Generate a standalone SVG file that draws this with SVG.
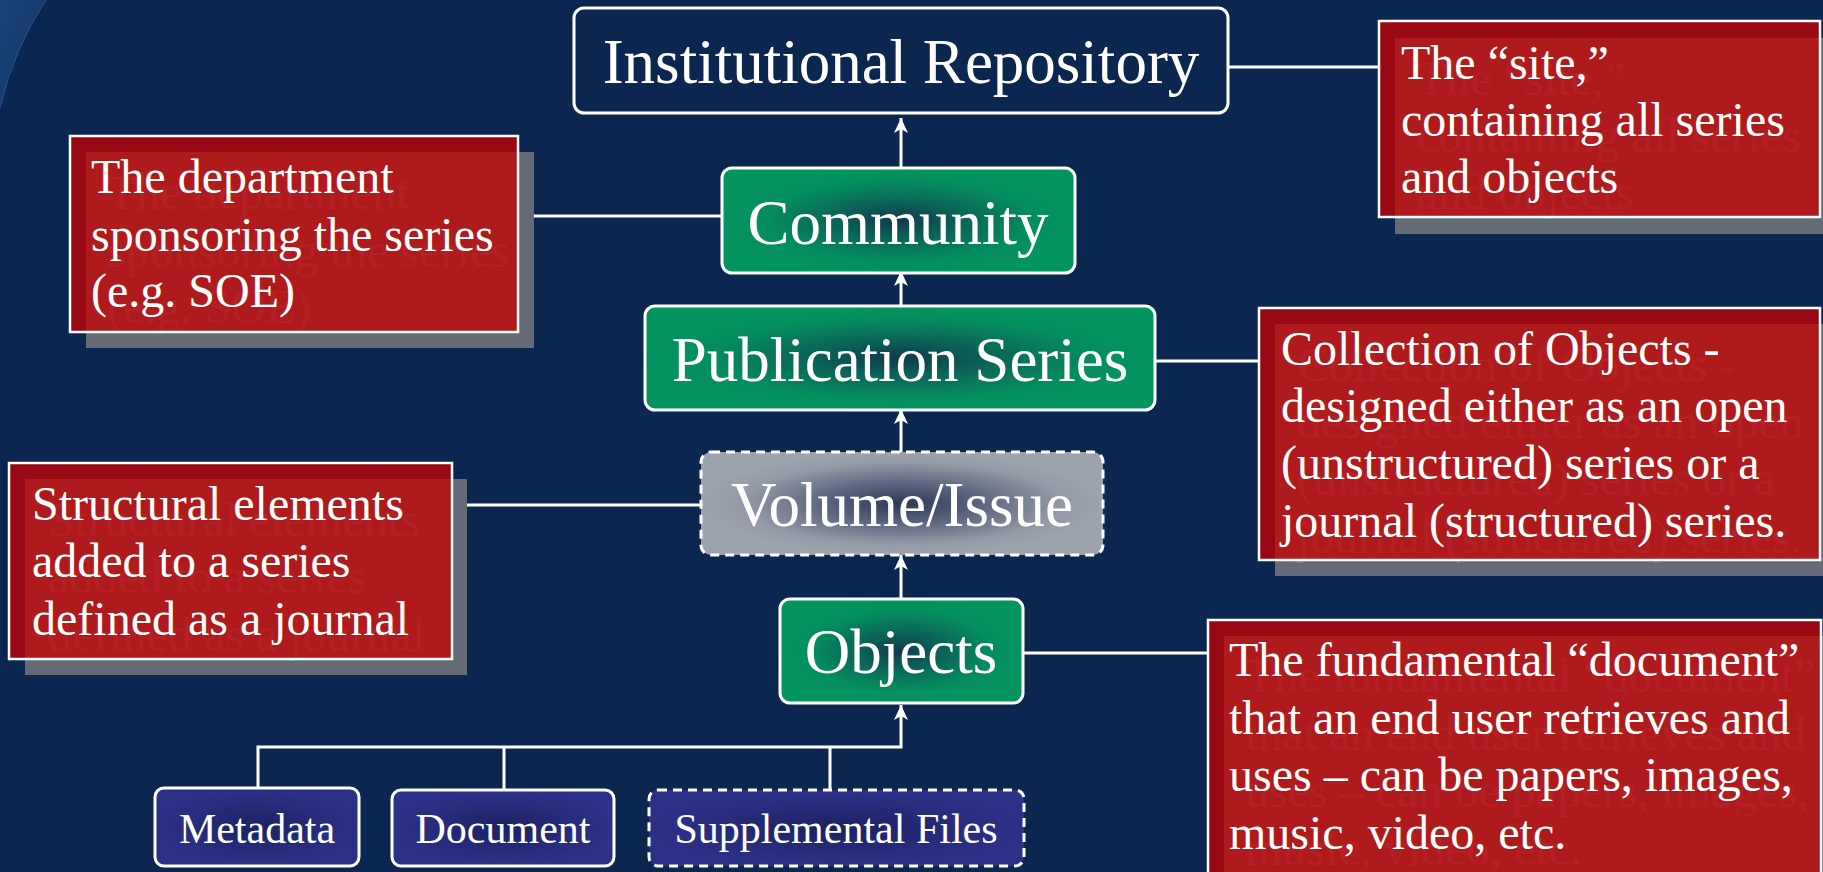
<svg xmlns="http://www.w3.org/2000/svg" width="1823" height="872" viewBox="0 0 1823 872">
<style>
.bg{fill:#0b264f}
.node{stroke:#ffffff;stroke-width:3}
.dash{stroke-dasharray:9 6}
.big{font-family:"Liberation Serif","Times New Roman",serif;font-size:63px;fill:#ffffff;text-anchor:middle}
.small{font-family:"Liberation Serif","Times New Roman",serif;font-size:42px;fill:#ffffff;text-anchor:middle}
.ct{font-family:"Liberation Serif","Times New Roman",serif;font-size:48px;fill:#ffffff}
.ghost{font-family:"Liberation Serif","Times New Roman",serif;font-size:48px;fill:#7a818b}
.shadow{fill:#646b75}
.callbox{fill:#c80000;fill-opacity:0.75;stroke:#ffffff;stroke-width:2.5}
.conn{stroke:#ffffff;stroke-width:3;fill:none}
</style>
<defs>
<radialGradient id="gGreen" cx="0.5" cy="0.5" r="0.5">
<stop offset="0" stop-color="#113a4d"/>
<stop offset="0.35" stop-color="#0a6458"/>
<stop offset="0.75" stop-color="#048d5f"/>
<stop offset="1" stop-color="#049460"/>
</radialGradient>
<radialGradient id="gGray" cx="0.5" cy="0.5" r="0.5">
<stop offset="0" stop-color="#2c3858"/>
<stop offset="0.4" stop-color="#5e6780"/>
<stop offset="0.8" stop-color="#949aa7"/>
<stop offset="1" stop-color="#9ca2ae"/>
</radialGradient>
<radialGradient id="gBlue" cx="0.5" cy="0.5" r="0.5">
<stop offset="0" stop-color="#1b2160"/>
<stop offset="0.6" stop-color="#262b7a"/>
<stop offset="1" stop-color="#2c3188"/>
</radialGradient>
<linearGradient id="gCorner" x1="0" y1="0" x2="1" y2="1">
<stop offset="0" stop-color="#1a4378"/>
<stop offset="1" stop-color="#123466"/>
</linearGradient>
<marker id="arr" markerUnits="userSpaceOnUse" markerWidth="16" markerHeight="14" refX="15" refY="7" orient="auto">
<path d="M0,0 L15,7 L0,14 L4,7 Z" fill="#ffffff"/>
</marker>
</defs>
<rect class="bg" x="0" y="0" width="1823" height="872"/>
<path d="M0,0 L46,0 Q14,48 0,108 Z" fill="url(#gCorner)"/>
<path d="M46,0 Q14,48 0,108" fill="none" stroke="#2a5590" stroke-width="1"/>

<g id="connectors">
<line class="conn" x1="1228" y1="67" x2="1379" y2="67"/>
<line class="conn" x1="518" y1="216" x2="722" y2="216"/>
<line class="conn" x1="1155" y1="361" x2="1259" y2="361"/>
<line class="conn" x1="452" y1="505" x2="701" y2="505"/>
<line class="conn" x1="1023" y1="653" x2="1208" y2="653"/>
<line class="conn" x1="901" y1="168" x2="901" y2="118" marker-end="url(#arr)"/>
<line class="conn" x1="901" y1="306" x2="901" y2="271" marker-end="url(#arr)"/>
<line class="conn" x1="901" y1="452" x2="901" y2="409" marker-end="url(#arr)"/>
<line class="conn" x1="901" y1="599" x2="901" y2="555" marker-end="url(#arr)"/>
<path class="conn" d="M258,788 V747 H901 V705" marker-end="url(#arr)"/>
<line class="conn" x1="504" y1="790" x2="504" y2="747"/>
<line class="conn" x1="830" y1="790" x2="830" y2="747"/>
</g>

<g id="node-ir">
<rect class="node bg" x="574" y="8" width="654" height="105" rx="10"/>
<text class="big" x="901" y="83">Institutional Repository</text>
</g>
<g id="node-community">
<rect class="node" x="722" y="168" width="353" height="105" rx="10" fill="url(#gGreen)"/>
<text class="big" x="898" y="244">Community</text>
</g>
<g id="node-series">
<rect class="node" x="645" y="306" width="510" height="104" rx="10" fill="url(#gGreen)"/>
<text class="big" x="900" y="381">Publication Series</text>
</g>
<g id="node-volume">
<rect class="node dash" x="701" y="452" width="402" height="103" rx="10" fill="url(#gGray)"/>
<text class="big" x="902" y="526">Volume/Issue</text>
</g>
<g id="node-objects">
<rect class="node" x="780" y="599" width="243" height="104" rx="10" fill="url(#gGreen)"/>
<text class="big" x="901" y="673">Objects</text>
</g>
<g id="node-metadata">
<rect class="node" x="155" y="788" width="204" height="78" rx="9" fill="url(#gBlue)"/>
<text class="small" x="257" y="843">Metadata</text>
</g>
<g id="node-document">
<rect class="node" x="392" y="790" width="222" height="76" rx="9" fill="url(#gBlue)"/>
<text class="small" x="503" y="843">Document</text>
</g>
<g id="node-supplemental">
<rect class="node dash" x="649" y="790" width="375" height="76" rx="9" fill="url(#gBlue)"/>
<text class="small" x="836" y="843">Supplemental Files</text>
</g>

<g id="callout-department">
<rect class="shadow" x="86" y="152" width="448" height="196"/>
<text class="ghost"><tspan x="107" y="209">The department</tspan><tspan x="107" y="267">sponsoring the series</tspan><tspan x="107" y="323">(e.g. SOE)</tspan></text>
<rect class="callbox" x="70" y="136" width="448" height="196"/>
<text class="ct"><tspan x="91" y="193">The department</tspan><tspan x="91" y="251">sponsoring the series</tspan><tspan x="91" y="307">(e.g. SOE)</tspan></text>
</g>

<g id="callout-site">
<rect class="shadow" x="1395" y="38" width="440" height="196"/>
<text class="ghost"><tspan x="1417" y="95">The “site,”</tspan><tspan x="1417" y="152">containing all series</tspan><tspan x="1417" y="209">and objects</tspan></text>
<rect class="callbox" x="1379" y="21" width="441" height="196"/>
<text class="ct"><tspan x="1401" y="79">The “site,”</tspan><tspan x="1401" y="136">containing all series</tspan><tspan x="1401" y="193">and objects</tspan></text>
</g>

<g id="callout-collection">
<rect class="shadow" x="1275" y="324" width="560" height="252"/>
<text class="ghost"><tspan x="1297" y="381">Collection of Objects -</tspan><tspan x="1297" y="438">designed either as an open</tspan><tspan x="1297" y="495">(unstructured) series or a</tspan><tspan x="1297" y="553">journal (structured) series.</tspan></text>
<rect class="callbox" x="1259" y="308" width="561" height="252"/>
<text class="ct"><tspan x="1281" y="365">Collection of Objects -</tspan><tspan x="1281" y="422">designed either as an open</tspan><tspan x="1281" y="479">(unstructured) series or a</tspan><tspan x="1281" y="537">journal (structured) series.</tspan></text>
</g>

<g id="callout-structural">
<rect class="shadow" x="25" y="479" width="442" height="196"/>
<text class="ghost"><tspan x="48" y="536">Structural elements</tspan><tspan x="48" y="593">added to a series</tspan><tspan x="48" y="651">defined as a journal</tspan></text>
<rect class="callbox" x="9" y="463" width="443" height="196"/>
<text class="ct"><tspan x="32" y="520">Structural elements</tspan><tspan x="32" y="577">added to a series</tspan><tspan x="32" y="635">defined as a journal</tspan></text>
</g>

<g id="callout-objects">
<rect class="shadow" x="1224" y="636" width="620" height="260"/>
<text class="ghost"><tspan x="1245" y="692">The fundamental “document”</tspan><tspan x="1245" y="750">that an end user retrieves and</tspan><tspan x="1245" y="807">uses – can be papers, images,</tspan><tspan x="1245" y="865">music, video, etc.</tspan></text>
<rect class="callbox" x="1208" y="620" width="613" height="270"/>
<text class="ct"><tspan x="1229" y="676">The fundamental “document”</tspan><tspan x="1229" y="734">that an end user retrieves and</tspan><tspan x="1229" y="791">uses – can be papers, images,</tspan><tspan x="1229" y="849">music, video, etc.</tspan></text>
</g>
</svg>
